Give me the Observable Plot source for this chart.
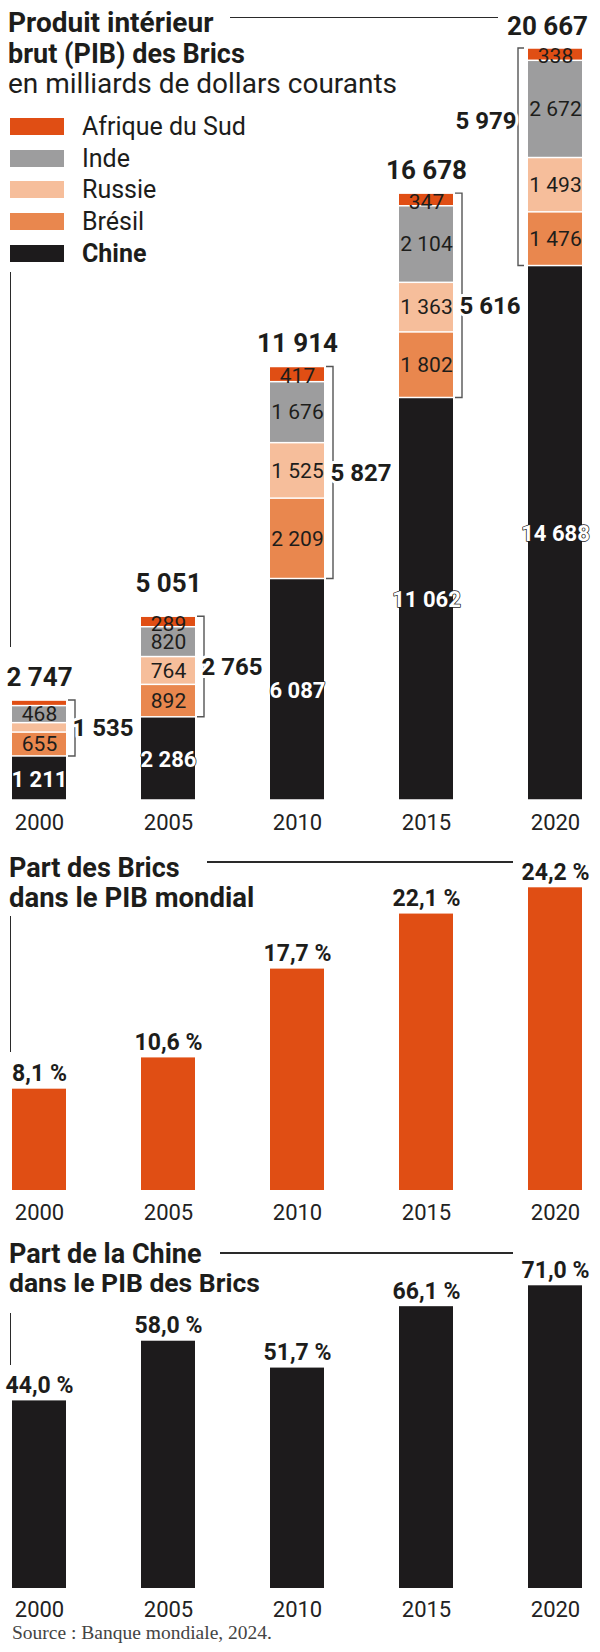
<!DOCTYPE html>
<html><head><meta charset="utf-8">
<script src="https://cdn.jsdelivr.net/npm/d3@7"></script>
<script src="https://cdn.jsdelivr.net/npm/@observablehq/plot@0.6"></script>
<style>
body{margin:0;background:#fff;}
#root{position:relative;width:600px;height:1652px;overflow:hidden;font-family:Roboto,sans-serif;color:#1d1d1b;}
.t{position:absolute;white-space:nowrap;}
.rule{position:absolute;background:#2a2a2a;}
.sw{position:absolute;}
</style></head><body><div id="root"></div>
<script>
// ---- data ----
const years = ["2000", "2005", "2010", "2015", "2020"];
const countries = ["Chine", "Brésil", "Russie", "Inde", "Afrique du Sud"];
const chine = [1211, 2286, 6087, 11062, 14688];
const bresil = [655, 892, 2209, 1802, 1476];
const russie = [260, 764, 1525, 1363, 1493];
const inde = [468, 820, 1676, 2104, 2672];
const afriqueDuSud = [152, 289, 417, 347, 338];
const totals = [2747, 5051, 11914, 16678, 20667];
const horsChine = [1535, 2765, 5827, 5616, 5979];
const partBricsMonde = [8.1, 10.6, 17.7, 22.1, 24.2];
const partChineBrics = [44.0, 58.0, 51.7, 66.1, 71.0];
const colors = ["#1d1b1c", "#e9874e", "#f6be9b", "#9d9d9e", "#e04e14"];
const legendOrder = ["Afrique du Sud", "Inde", "Russie", "Brésil", "Chine"];

// ---- helpers ----
const locale = d3.formatLocale({decimal: ",", thousands: " ", grouping: [3], currency: ["", " €"]});
const fmt = locale.format(",d");
const pct = v => locale.format(".1f")(v) + " %";
const root = document.getElementById("root");
const ctx = document.createElement("canvas").getContext("2d");
const INK = "#1d1d1b";
function addText(str, x, baseline, {size = 27, weight = 400, family = "Roboto, sans-serif", color = INK} = {}) {
  const font = `${weight} ${size}px ${family}`;
  ctx.font = font;
  const m = ctx.measureText(str);
  const asc = m.fontBoundingBoxAscent, desc = m.fontBoundingBoxDescent;
  const lh = size;
  const el = document.createElement("div");
  el.className = "t";
  el.textContent = str;
  Object.assign(el.style, {left: x + "px", top: (baseline - asc - (lh - asc - desc) / 2) + "px", font, lineHeight: lh + "px", color});
  root.appendChild(el);
}
function addRule(left, top, width, height) {
  const el = document.createElement("div");
  el.className = "rule";
  Object.assign(el.style, {left: left + "px", top: top + "px", width: width + "px", height: height + "px"});
  root.appendChild(el);
}
function place(svg, top) {
  svg.style.position = "absolute";
  svg.style.left = "0px";
  svg.style.top = top + "px";
  root.appendChild(svg);
}
const baseStyle = {fontFamily: "Roboto, sans-serif", overflow: "visible", background: "transparent", color: INK};
const xBand = {type: "band", domain: years, paddingInner: 0.584, paddingOuter: 0, axis: null};
const yearLabels = dy => Plot.text(years, {x: d => d, frameAnchor: "bottom", dy, lineAnchor: "bottom", text: d => d, fontSize: 22, fill: "#222"});

// ---- panel 1 : stacked GDP ----
const seriesValues = [chine, bresil, russie, inde, afriqueDuSud];
const rows = years.flatMap((year, i) => countries.map((pays, k) => ({year, pays, value: seriesValues[k][i]})));
// midpoint of each stacked segment (derived from the values) for the in-bar labels
const labelRows = years.flatMap((year, i) => {
  let base = 0;
  return countries.map((pays, k) => {
    const value = seriesValues[k][i];
    const r = {year, pays, value, mid: base + value / 2};
    base += value;
    return r;
  });
}).filter(d => d.value >= 280);
const totalRows = years.map((year, i) => ({year, total: totals[i], sum: horsChine[i], chine: chine[i]}));
const stackOpts = {x: "year", y: "value", z: "pays", order: countries};

const bracket = (index, scales) => {
  const g = d3.create("svg:g").attr("fill", "none").attr("stroke", "#555").attr("stroke-width", 1.4);
  const bw = typeof scales.x.bandwidth === "function" ? scales.x.bandwidth() : scales.scales.x.bandwidth;
  totalRows.forEach((d, i) => {
    const x0 = scales.x(d.year);
    const yTop = scales.y(d.total), yBot = scales.y(d.chine);
    const last = i === totalRows.length - 1;
    const xb = last ? x0 - 10 : x0 + bw + 9;
    const xt = last ? x0 - 4 : x0 + bw + 2;
    g.append("path").attr("d", `M${xt},${yTop}H${xb}V${yBot}H${xt}`);
  });
  return g.node();
};

const segText = (filter, opts) => Plot.text(labelRows, {filter, x: "year", y: "mid", text: d => fmt(d.value), fill: INK, fontSize: 21, ...opts});
const sumMark = (filter, opts) => Plot.text(totalRows, {filter, x: "year", y: d => d.chine + d.sum / 2, text: d => fmt(d.sum), fill: INK, stroke: "white", strokeWidth: 6, fontWeight: 700, fontSize: 24, ...opts});
const totalMark = (filter, opts) => Plot.text(totalRows, {filter, x: "year", y: "total", text: d => fmt(d.total), dy: -15, lineAnchor: "bottom", fill: INK, fontWeight: 700, fontSize: 26, ...opts});

const p1 = Plot.plot({
  width: 600, height: 840, marginTop: 48, marginBottom: 40, marginLeft: 10, marginRight: 17,
  style: baseStyle,
  x: xBand,
  y: {domain: [0, d3.max(totals)], axis: null},
  color: {domain: countries, range: colors},
  marks: [
    Plot.barY(rows, {...stackOpts, fill: "pays", insetTop: 0.75, insetBottom: 0.75}),
    segText(d => d.pays === "Chine", {fill: "white", stroke: "#1d1b1c", strokeWidth: 1.5, fontWeight: 700, fontSize: 22, dy: 1}),
    segText(d => ["Brésil", "Russie", "Inde"].includes(d.pays)),
    segText(d => d.pays === "Afrique du Sud", {dy: 2}),
    bracket,
    sumMark(d => d.year < "2015", {textAnchor: "start", dx: 33}),
    sumMark(d => d.year === "2015", {textAnchor: "start", dx: 33, dy: 10}),
    sumMark(d => d.year === "2020", {textAnchor: "end", dx: -39, dy: -36}),
    totalMark(d => d.year !== "2005" && d.year !== "2020"),
    totalMark(d => d.year === "2005", {dy: -25}),
    totalMark(d => d.year === "2020", {dx: -8, dy: -14}),
    yearLabels(29)
  ]
});
place(p1, 0);

// ---- panel 2 : share of world GDP ----
const p2 = Plot.plot({
  width: 600, height: 390, marginTop: 47.3, marginBottom: 40, marginLeft: 10, marginRight: 17,
  style: baseStyle,
  x: xBand,
  y: {domain: [0, d3.max(partBricsMonde)], axis: null},
  marks: [
    Plot.barY(years, {x: d => d, y: (d, i) => partBricsMonde[i], fill: "#e04e14"}),
    Plot.text(years, {x: d => d, y: (d, i) => partBricsMonde[i], text: (d, i) => pct(partBricsMonde[i]), dy: -8, lineAnchor: "bottom", fill: INK, fontWeight: 700, fontSize: 23}),
    yearLabels(29)
  ]
});
place(p2, 840);

// ---- panel 3 : China share of BRICS GDP ----
const p3 = Plot.plot({
  width: 600, height: 400, marginTop: 55.3, marginBottom: 42, marginLeft: 10, marginRight: 17,
  style: baseStyle,
  x: xBand,
  y: {domain: [0, d3.max(partChineBrics)], axis: null},
  marks: [
    Plot.barY(years, {x: d => d, y: (d, i) => partChineBrics[i], fill: "#1d1b1c"}),
    Plot.text(years, {x: d => d, y: (d, i) => partChineBrics[i], text: (d, i) => pct(partChineBrics[i]), dy: -8, lineAnchor: "bottom", fill: INK, fontWeight: 700, fontSize: 23}),
    yearLabels(28)
  ]
});
place(p3, 1230);

// ---- titles, legend, guides ----
addText("Produit intérieur", 8, 32, {weight: 700, size: 28});
addText("brut (PIB) des Brics", 8, 63, {weight: 700, size: 27});
addText("en milliards de dollars courants", 8, 93, {weight: 400, size: 28});
legendOrder.forEach((name, k) => {
  const sw = document.createElement("div");
  sw.className = "sw";
  Object.assign(sw.style, {left: "10px", top: (118 + k * 31.7) + "px", width: "54px", height: "17px", background: colors[countries.indexOf(name)]});
  root.appendChild(sw);
  addText(name, 82, 135 + k * 31.7, {size: 25, weight: name === "Chine" ? 700 : 400});
});
addRule(230, 16.5, 268, 1.5);
addRule(9.5, 272, 1.5, 375);

addText("Part des Brics", 9, 877, {weight: 700});
addText("dans le PIB mondial", 9, 907, {weight: 700, size: 27.5});
addRule(207, 861.3, 306, 1.5);
addRule(9.5, 916, 1.5, 136);

addText("Part de la Chine", 9, 1263, {weight: 700});
addText("dans le PIB des Brics", 9, 1293, {weight: 700, size: 26.5});
addRule(220, 1252.3, 293, 1.5);
addRule(9.5, 1313, 1.5, 52);

addText("Source : Banque mondiale, 2024.", 12, 1639, {size: 19.5, family: '"Liberation Serif", serif', color: "#444"});
</script></body></html>
